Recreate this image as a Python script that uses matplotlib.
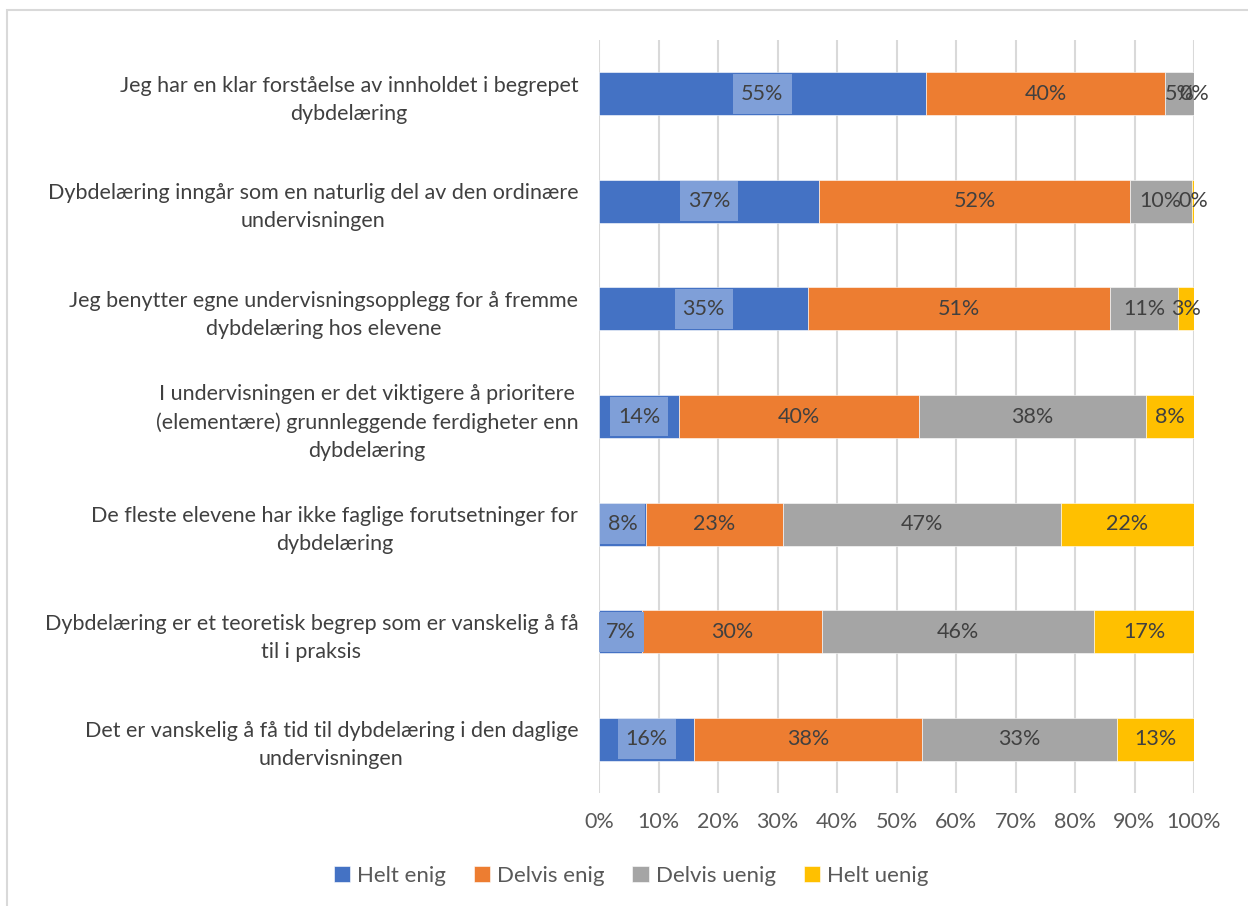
import matplotlib
matplotlib.use("Agg")
import matplotlib.pyplot as plt
from matplotlib.patches import Rectangle
import numpy as np

plt.rcParams['font.family'] = ['Lato', 'DejaVu Sans']

categories = [
    "Jeg har en klar forståelse av innholdet i begrepet\ndybdelæring",
    "Dybdelæring inngår som en naturlig del av den ordinære\nundervisningen",
    "Jeg benytter egne undervisningsopplegg for å fremme\ndybdelæring hos elevene",
    "I undervisningen er det viktigere å prioritere\n(elementære) grunnleggende ferdigheter enn\ndybdelæring",
    "De fleste elevene har ikke faglige forutsetninger for\ndybdelæring",
    "Dybdelæring er et teoretisk begrep som er vanskelig å få\ntil i praksis",
    "Det er vanskelig å få tid til dybdelæring i den daglige\nundervisningen",
]
series_names = ["Helt enig", "Delvis enig", "Delvis uenig", "Helt uenig"]
helt_enig = [54.9, 37.0, 35.2, 13.5, 7.9, 7.3, 16.0]
delvis_enig = [40.3, 52.2, 50.7, 40.2, 23.0, 30.1, 38.3]
delvis_uenig = [4.8, 10.4, 11.4, 38.2, 46.7, 45.8, 32.8]
helt_uenig = [0.0, 0.4, 2.7, 8.1, 22.4, 16.8, 12.9]
x_ticks = [0, 10, 20, 30, 40, 50, 60, 70, 80, 90, 100]

colors = ["#4472C4", "#ED7D31", "#A5A5A5", "#FFC000"]
label_box = "#7F9FD8"
text_dark = "#404040"
tick_gray = "#595959"
grid_gray = "#D9D9D9"

fig = plt.figure(figsize=(12.48, 9.06), dpi=100)
fig.patches.append(Rectangle((7 / 1248, -0.1), 1.2, 1 - 10 / 906 + 0.1,
                             transform=fig.transFigure, fill=False,
                             edgecolor=grid_gray, linewidth=1.5, zorder=0))
ax = fig.add_axes([599 / 1248, 1 - 793 / 906, (1194 - 599) / 1248, (793 - 40) / 906])

data = np.array([helt_enig, delvis_enig, delvis_uenig, helt_uenig])
n = len(categories)
y = np.arange(n)
bar_h = 0.4
left = np.zeros(n)
handles = []
for i, (vals, name, col) in enumerate(zip(data, series_names, colors)):
    h = ax.barh(y, vals, left=left, height=bar_h, color=col, label=name,
                edgecolor="white", linewidth=0.4, zorder=2)
    handles.append(h)
    for j, v in enumerate(vals):
        cx = left[j] + v / 2
        ax.text(cx, y[j], f"{v:.0f}%", ha="center", va="center",
                fontsize=15.5, color=text_dark, zorder=5)
    left = left + vals

ax.set_xlim(0, 100)
ax.set_ylim(n - 0.5, -0.5)
ax.set_xticks(x_ticks)
ax.set_xticklabels([f"{t}%" for t in x_ticks], fontsize=15.5, color=tick_gray)
ax.set_yticks(y)
ax.set_yticklabels(categories, fontsize=15.5, color=text_dark,
                   multialignment="center", linespacing=1.5)
ax.tick_params(axis="both", length=0)
ax.tick_params(axis="x", pad=14)
ax.tick_params(axis="y", pad=15)
for s in ax.spines.values():
    s.set_visible(False)
ax.xaxis.grid(True, color=grid_gray, linewidth=1.5, zorder=0)
ax.set_axisbelow(True)

# light boxes behind the first-series labels
fig.canvas.draw()
renderer = fig.canvas.get_renderer()
inv = ax.transData.inverted()
for t in ax.texts[:n]:
    bb = t.get_window_extent(renderer)
    x0 = inv.transform((bb.x0 - 8, 0))[0]
    x1 = inv.transform((bb.x1 + 8, 0))[0]
    cy = t.get_position()[1]
    ax.add_patch(Rectangle((x0, cy - 0.185), x1 - x0, 0.37,
                           facecolor=label_box, edgecolor="none", zorder=4))

fig.legend(handles=handles, labels=series_names, loc="center",
           bbox_to_anchor=(631 / 1248, 1 - 876 / 906), ncol=4, frameon=False,
           fontsize=16, labelcolor=tick_gray, handlelength=0.75, handleheight=0.75,
           handletextpad=0.3, columnspacing=1.25)

fig.savefig("out.png", dpi=100, facecolor="white")
